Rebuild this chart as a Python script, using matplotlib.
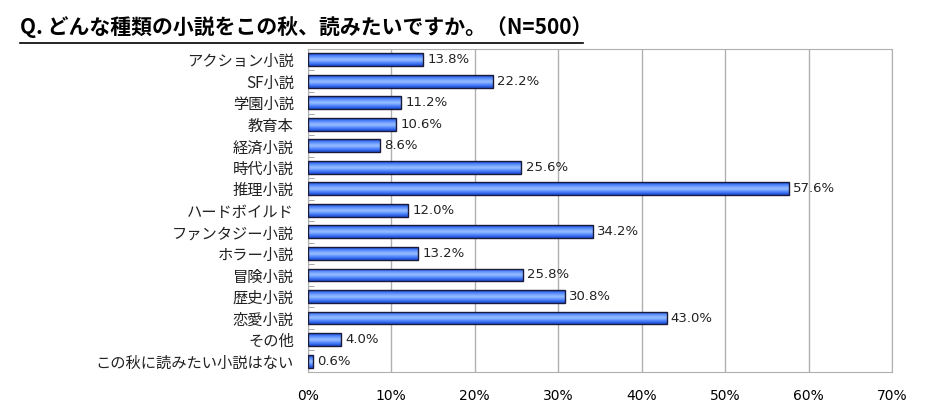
import numpy as np
import matplotlib.pyplot as plt
from matplotlib.lines import Line2D
from matplotlib.colors import LinearSegmentedColormap

plt.rcParams['font.family'] = ['Noto Sans CJK JP', 'DejaVu Sans']

categories = ['アクション小説', 'SF小説', '学園小説', '教育本', '経済小説', '時代小説',
              '推理小説', 'ハードボイルド', 'ファンタジー小説', 'ホラー小説', '冒険小説',
              '歴史小説', '恋愛小説', 'その他', 'この秋に読みたい小説はない']
values = [13.8, 22.2, 11.2, 10.6, 8.6, 25.6, 57.6, 12.0, 34.2, 13.2, 25.8, 30.8, 43.0, 4.0, 0.6]
xticks = [0, 10, 20, 30, 40, 50, 60, 70]

fig = plt.figure(figsize=(9.5, 4.15), dpi=100)
ax = fig.add_axes([0.324, 0.104, 0.615, 0.778])

y = np.arange(len(categories))
bh = 0.6
bars = ax.barh(y, values, height=bh, color='none', edgecolor='#1a1a3a', linewidth=1.0, zorder=3)

# vertical gradient inside each bar
grad = np.array([0.0, 0.35, 0.6, 0.8, 1.0, 0.8, 0.55, 0.3, 0.0]).reshape(-1, 1)
cmap = LinearSegmentedColormap.from_list('b', ['#1f4fd8', '#4f86ff', '#9cc0ff'])
for b in bars:
    x0, y0 = b.get_x(), b.get_y()
    w, h = b.get_width(), b.get_height()
    im = ax.imshow(grad, cmap=cmap, aspect='auto', extent=[x0, x0 + w, y0 + h, y0],
                   zorder=2, interpolation='bicubic')
    im.set_clip_path(b)

for yi, v in zip(y, values):
    ax.text(v + 0.5, yi, f'{v:.1f}%', va='center', ha='left', fontsize=9.5, color='#222222',
            family='DejaVu Sans')

ax.set_xlim(0, 70)
ax.set_ylim(len(categories) - 0.5, -0.5)
ax.set_xticks(xticks)
ax.set_xticklabels([f'{t}%' for t in xticks], family='DejaVu Sans', fontsize=10)
ax.set_yticks(y)
ax.set_yticklabels(categories, fontsize=11, color='#222222')
ax.set_yticks(np.arange(len(categories) + 1) - 0.5, minor=True)
ax.tick_params(axis='x', length=0, pad=12)
ax.tick_params(axis='y', which='major', length=0, pad=10)
ax.tick_params(axis='y', which='minor', length=4, direction='in', color='#999999')
ax.grid(axis='x', color='#b0b0b0', linewidth=1.0, zorder=0)
ax.set_axisbelow(True)
for s in ax.spines.values():
    s.set_color('#b0b0b0')

fig.text(0.021, 0.935, 'Q. どんな種類の小説をこの秋、読みたいですか。（N=500）',
         fontsize=15, fontweight='bold', ha='left', va='center')
fig.add_artist(Line2D([0.021, 0.614], [0.897, 0.897], color='black', linewidth=1.2,
                      transform=fig.transFigure))

fig.savefig('out.png', dpi=100)
